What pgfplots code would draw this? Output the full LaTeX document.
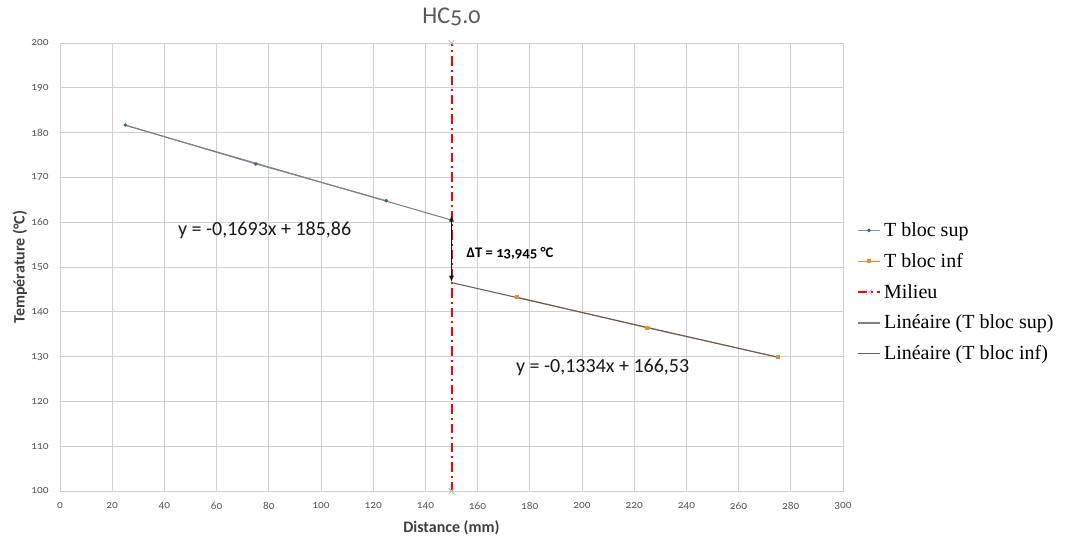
\documentclass[border=0pt]{standalone}
\usepackage{fontspec}
\setmainfont{Carlito}[Numbers=OldStyle]
\newfontfamily\legfont{Liberation Serif}
\newfontfamily\eqfont{Carlito}
\usepackage{pgfplots}
\pgfplotsset{compat=1.18}
\usetikzlibrary{arrows.meta}
\definecolor{gridgray}{RGB}{208,208,208}
\definecolor{ticklab}{RGB}{89,89,89}
\definecolor{labcol}{RGB}{64,64,64}
\definecolor{supcol}{RGB}{120,150,160}
\definecolor{supmark}{RGB}{70,100,110}
\definecolor{infcol}{RGB}{232,140,60}
\definecolor{trsup}{RGB}{130,130,130}
\definecolor{trinf}{RGB}{95,95,95}
\begin{document}
\begin{tikzpicture}
\useasboundingbox (-45pt,-38.25pt) rectangle (756pt,368.25pt);
\begin{axis}[
  at={(0,0)}, anchor=south west, scale only axis,
  width=587.25pt, height=336pt,
  xmin=0, xmax=300, ymin=100, ymax=200,
  xtick distance=20, ytick distance=10,
  grid=major, major grid style={draw=gridgray, line width=0.6pt},
  axis line style={draw=gridgray, line width=0.6pt},
  major tick length=0pt,
  /pgf/number format/assume math mode=true,
  tick label style={font=\fontsize{8.5}{9}\selectfont, text=ticklab},
  yticklabel style={xshift=-5pt},
  xticklabel style={yshift=-5pt},
  title={HC5.0},
  title style={at={(axis description cs:0.5,1.04)}, anchor=center, font=\fontsize{18}{19}\selectfont, text=ticklab},
  xlabel={Distance (mm)},
  xlabel style={at={(axis description cs:0.5,-0.0826)}, anchor=center, font=\bfseries\fontsize{12}{13}\selectfont, text=labcol},
  ylabel={Température (°C)},
  ylabel style={at={(axis description cs:-0.0511,0.5)}, anchor=center, font=\bfseries\fontsize{12}{13}\selectfont, text=labcol},
  clip=false,
  legend style={at={(1.012,0.612)}, anchor=north west, draw=none, fill=none,
    font=\legfont\fontsize{15}{16}\selectfont, row sep=7.2pt,
    /tikz/every even column/.append style={column sep=0pt}},
  legend cell align=left,
]
\addplot[color=supcol, line width=0.8pt, mark=*, mark size=0.9pt, mark options={fill=supmark, draw=supmark}]
  coordinates {(25,181.7) (75,173.0) (125,164.8)};
\addlegendentry{T bloc sup}
\addplot[color=infcol, line width=0.8pt, mark=square*, mark size=1.1pt, mark options={fill=infcol}]
  coordinates {(175,143.3) (225,136.4) (275,129.9)};
\addlegendentry{T bloc inf}
\addplot[color=red, line width=1.5pt, dash pattern=on 7pt off 3pt on 1.5pt off 3pt, mark=x, mark size=3pt, mark options={solid, draw=gray!50, line width=0.6pt}]
  coordinates {(150,100) (150,200)};
\addlegendentry{Milieu}
\addplot[color=trsup, line width=0.8pt]
  coordinates {(25,181.63) (150,160.47)};
\addlegendentry{Linéaire (T bloc sup)}
\addplot[color=trinf, line width=0.8pt]
  coordinates {(150,146.52) (275,129.85)};
\addlegendentry{Linéaire (T bloc inf)}
\node[font=\eqfont\fontsize{15}{16}\selectfont, text=black!90] at (axis cs:78.4,158.3) {y = -0,1693x + 185,86};
\node[font=\eqfont\fontsize{15}{16}\selectfont, text=black!90] at (axis cs:207.9,127.7) {y = -0,1334x + 166,53};
\draw[{Latex[length=5pt,width=4pt]}-{Latex[length=5pt,width=4pt]}, line width=1.4pt, black!90] (axis cs:150,161.6) -- (axis cs:150,146.6);
\node[font=\bfseries\fontsize{11}{12}\selectfont] at (axis cs:172.4,153.1) {ΔT = 13,945 °C};
\end{axis}
\end{tikzpicture}
\end{document}
